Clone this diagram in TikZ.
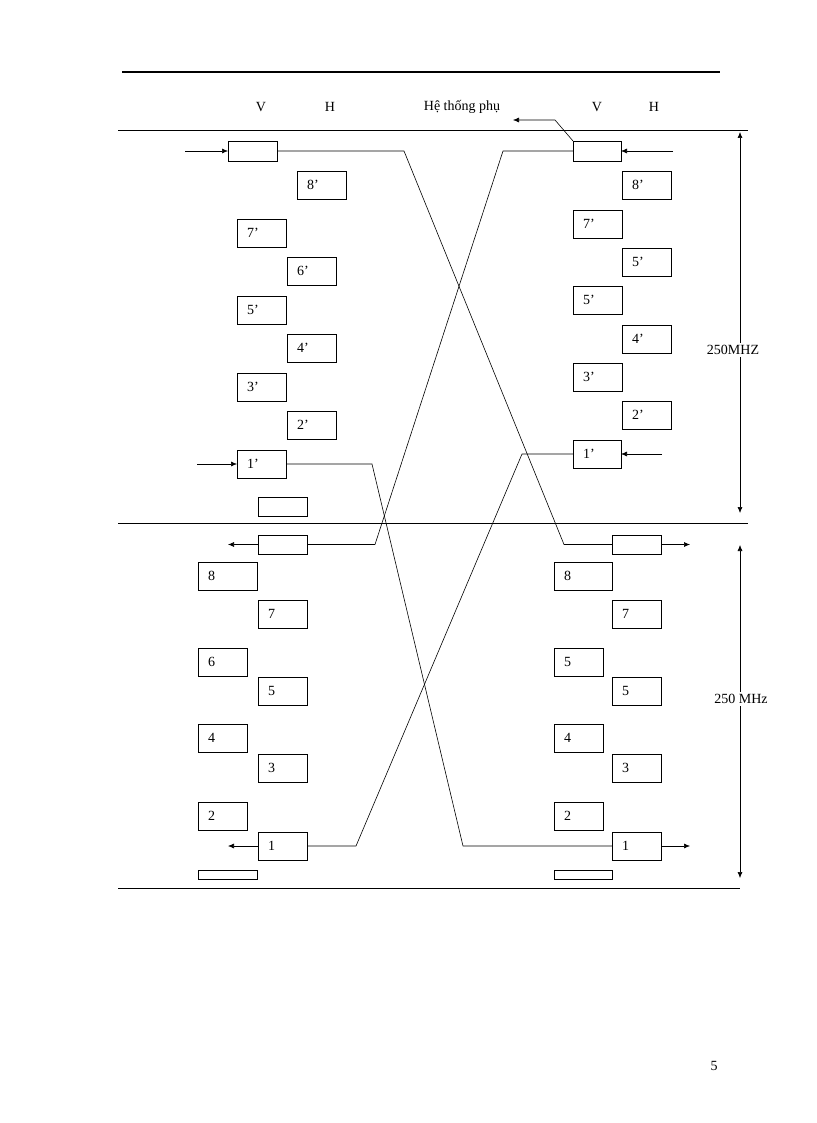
\documentclass[tikz,border=0pt]{standalone}
\usepackage{fontspec}
\setmainfont{Liberation Serif}
\usetikzlibrary{arrows.meta}
\begin{document}
\begin{tikzpicture}[x=1pt,y=-1pt,
  ln/.style={line width=0.6pt},
  ar/.style={line width=0.6pt,-{Latex[length=6pt,width=5pt]}},
  lb/.style={font=\fontsize{14}{16}\selectfont,inner sep=0pt}]
\useasboundingbox (0,0) rectangle (816,1123);
\fill[white] (0,0) rectangle (816,1123);
\newcommand\bxx[6]{\draw[line width=0.7pt] (#2,#3) rectangle (#4,#5);
  \coordinate (#1L) at (#2,{(#3+#5)/2}); \coordinate (#1R) at (#4,{(#3+#5)/2});
  \node[lb,anchor=west] (#1) at ({#2+10},{(#3+#5)/2}) {#6};}
% rules
\draw[line width=1.5pt] (122,72) -- (720,72);
\draw[ln] (118,130) -- (748,130);
\draw[ln] (118,523) -- (748,523);
\draw[ln] (118,888) -- (740,888);
% headers
\node[lb] (v1) at (261,107) {V};
\node[lb] (h1) at (330,107) {H};
\node[lb] (ht) at (462,107) {Hệ thống phụ};
\node[lb] (v2) at (597,107) {V};
\node[lb] (h2) at (654,107) {H};
\node[lb] (pg) at (714,1066) {5};
% left top
\bxx{lin}{228}{141}{277}{161}{}
\bxx{l8p}{297}{171}{346}{199}{8’}
\bxx{l7p}{237}{219}{286}{247}{7’}
\bxx{l6p}{287}{257}{336}{285}{6’}
\bxx{l5p}{237}{296}{286}{324}{5’}
\bxx{l4p}{287}{334}{336}{362}{4’}
\bxx{l3p}{237}{373}{286}{401}{3’}
\bxx{l2p}{287}{411}{336}{439}{2’}
\bxx{l1p}{237}{450}{286}{478}{1’}
\bxx{le1}{258}{497}{307}{516}{}
% right top
\bxx{rin}{573}{141}{621}{161}{}
\bxx{r8p}{622}{171}{671}{199}{8’}
\bxx{r7p}{573}{210}{622}{238}{7’}
\bxx{r5a}{622}{248}{671}{276}{5’}
\bxx{r5b}{573}{286}{622}{314}{5’}
\bxx{r4p}{622}{325}{671}{353}{4’}
\bxx{r3p}{573}{363}{622}{391}{3’}
\bxx{r2p}{622}{401}{671}{429}{2’}
\bxx{r1p}{573}{440}{621}{468}{1’}
% left bottom
\bxx{lout}{258}{535}{307}{554}{}
\bxx{l8}{198}{562}{257}{590}{8}
\bxx{l7}{258}{600}{307}{628}{7}
\bxx{l6}{198}{648}{247}{676}{6}
\bxx{l5}{258}{677}{307}{705}{5}
\bxx{l4}{198}{724}{247}{752}{4}
\bxx{l3}{258}{754}{307}{782}{3}
\bxx{l2}{198}{802}{247}{830}{2}
\bxx{l1}{258}{832}{307}{860}{1}
\bxx{le2}{198}{870}{257}{879}{}
% right bottom
\bxx{rout}{612}{535}{661}{554}{}
\bxx{r8}{554}{562}{612}{590}{8}
\bxx{r7}{612}{600}{661}{628}{7}
\bxx{r5c}{554}{648}{603}{676}{5}
\bxx{r5d}{612}{677}{661}{705}{5}
\bxx{r4}{554}{724}{603}{752}{4}
\bxx{r3}{612}{754}{661}{782}{3}
\bxx{r2}{554}{802}{603}{830}{2}
\bxx{r1}{612}{832}{661}{860}{1}
\bxx{re2}{554}{870}{612}{879}{}
% crossing connectors
\draw[ln] (linR) -- (404,151) -- (564,544.5) -- (routL);
\draw[ln] (rinL) -- (503,151) -- (375,544.5) -- (loutR);
\draw[ln] (l1pR) -- (372,464) -- (463,846) -- (r1L);
\draw[ln] (r1pL) -- (522,454) -- (356,846) -- (l1R);
% in/out arrows
\coordinate (a1) at (185,151); \draw[ar] (a1) -- (linL);
\coordinate (a2) at (673,151); \draw[ar] (a2) -- (rinR);
\coordinate (a3) at (197,464); \draw[ar] (a3) -- (l1pL);
\coordinate (a4) at (662,454); \draw[ar] (a4) -- (r1pR);
\coordinate (b1) at (228,544.5); \draw[ar] (loutL) -- (b1);
\coordinate (b2) at (690,544.5); \draw[ar] (routR) -- (b2);
\coordinate (b3) at (228,846); \draw[ar] (l1L) -- (b3);
\coordinate (b4) at (690,846); \draw[ar] (r1R) -- (b4);
% subsystem arrow
\coordinate (s1) at (555,120); \coordinate (s2) at (513,120);
\draw[ar] (573,141) -- (s1) -- (s2);
% dimensions
\draw[line width=0.6pt,{Latex[length=6pt,width=5pt]}-{Latex[length=6pt,width=5pt]}] (740,132) -- (740,513);
\node[lb,fill=white,inner sep=2pt] (d1) at (733,350) {250MHZ};
\draw[line width=0.6pt,{Latex[length=6pt,width=5pt]}-{Latex[length=6pt,width=5pt]}] (740,545) -- (740,878);
\node[lb,fill=white,inner sep=2pt] (d2) at (741,699) {250 MHz};
\end{tikzpicture}
\end{document}
